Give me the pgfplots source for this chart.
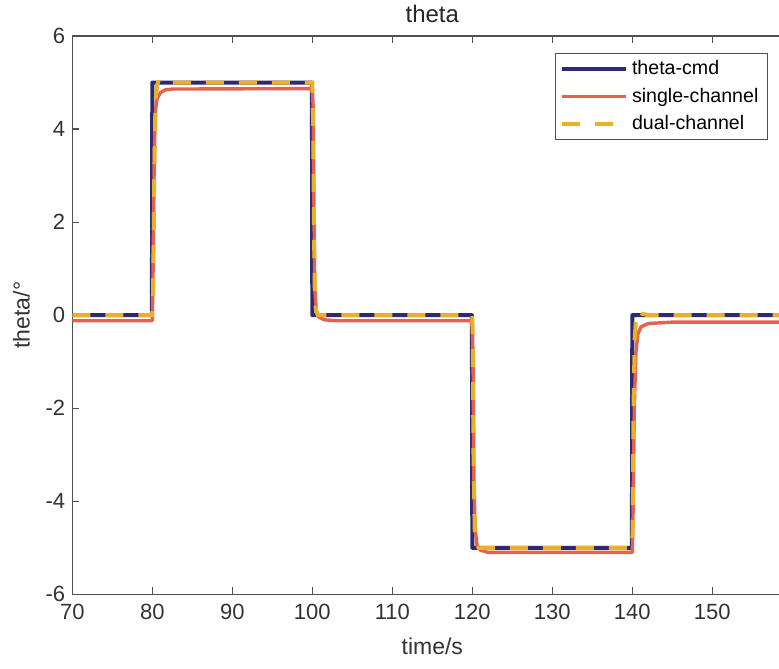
\documentclass[border=0pt]{standalone}
\usepackage{fontspec}
\setmainfont{Liberation Sans}
\usepackage{pgfplots}
\pgfplotsset{compat=1.18}

\definecolor{cmdnavy}{HTML}{2B2A72}
\definecolor{singred}{HTML}{E8614E}
\definecolor{dualyel}{HTML}{EDB024}
\definecolor{axgray}{HTML}{505050}

\begin{document}
\begin{tikzpicture}
\begin{axis}[
  scale only axis,
  width=360pt, height=279.15pt,
  xmin=70, xmax=160, ymin=-6, ymax=6,
  xtick={70,80,...,150}, ytick={-6,-4,...,6},
  /pgf/number format/assume math mode=true,
  tick label style={font=\fontsize{11}{13}\selectfont, text=black!80},
  xticklabel style={yshift=-1.5pt},
  label style={font=\fontsize{11.5}{13}\selectfont, text=black!80},
  xlabel style={yshift=-2pt},
  ylabel style={yshift=1pt},
  title style={font=\fontsize{12}{14}\selectfont, text=black!85, yshift=-3pt},
  title={theta},
  xlabel={time/s},
  ylabel={theta/°},
  axis line style={axgray, line width=0.7pt},
  major tick style={axgray, line width=0.6pt},
  major tick length=3.5pt,
  tick align=inside,
  legend cell align=left,
  legend style={at={(axis cs:156.95,5.63)}, anchor=north east,
    draw=axgray, line width=0.5pt, font=\fontsize{9.8}{11}\selectfont,
    inner xsep=2.5pt, inner ysep=1.5pt, row sep=1pt},
  legend image code/.code={\draw[#1] (0pt,0pt) -- (32pt,0pt);},
]
\addplot[cmdnavy, line width=2pt, line join=round] coordinates {
  (70,0)(79.95,0)(80.0,5)(99.95,5)(100.0,0)(119.95,0)(120.0,-5)(139.95,-5)(140.0,0)(160,0)};
\addlegendentry{theta-cmd}
\addplot[singred, line width=1.7pt, line join=round] coordinates {
  (70,-0.12)(80,-0.12)(80.1,1)(80.25,3.5)(80.4,4.4)(80.6,4.65)(81,4.78)(81.6,4.84)(82.5,4.86)
  (100,4.87)(100.1,4.5)(100.2,2.5)(100.3,0.6)(100.5,0.1)(100.8,-0.04)(101.5,-0.1)(103,-0.12)
  (120,-0.12)(120.1,-1)(120.2,-3.5)(120.35,-4.6)(120.6,-4.95)(121,-5.05)(122,-5.1)
  (140,-5.1)(140.1,-4.2)(140.25,-2)(140.45,-0.8)(140.7,-0.4)(141.1,-0.25)(142,-0.18)(145,-0.15)(160,-0.15)};
\addlegendentry{single-channel}
\addplot[dualyel, line width=2pt, dash pattern=on 9pt off 7.5pt] coordinates {
  (70,0)(80,0)(80.1,0.5)(80.25,3)(80.4,4.6)(80.6,4.95)(80.8,5.05)(81.0,5.02)(81.5,5)
  (100,5)(100.1,4.2)(100.2,2)(100.3,0.6)(100.45,0.1)(100.7,0)
  (120,0)(120.05,-0.5)(120.15,-3)(120.3,-4.6)(120.5,-4.95)(120.8,-5.0)
  (140,-5)(140.05,-4.5)(140.15,-2)(140.3,-0.5)(140.5,0.05)(140.8,0.08)(141.2,0.03)(142,0)(160,0)};
\addlegendentry{dual-channel}
\end{axis}
\pgfresetboundingbox
\path[use as bounding box] ([shift={(-36.15pt,-36.85pt)}]current axis.south west)
  rectangle ([shift={(353.35pt,18pt)}]current axis.north west);
\end{tikzpicture}
\end{document}
